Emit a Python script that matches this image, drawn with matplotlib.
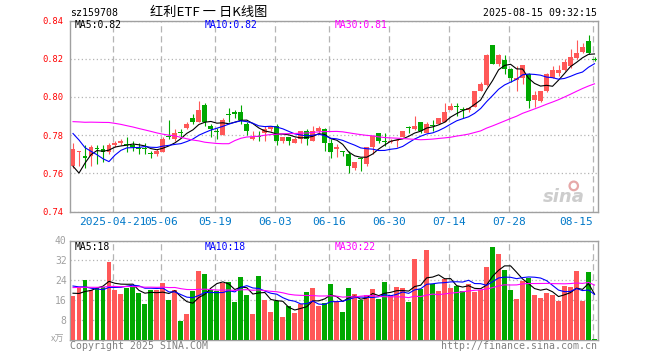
import matplotlib
matplotlib.use("Agg")
import matplotlib.pyplot as plt
from matplotlib.patches import Ellipse
import numpy as np
import pandas as pd

code = "sz159708"
title = "红利ETF 一 日K线图"
stamp = "2025-08-15 09:32:15"

# daily candles 2025-04-10 .. 2025-08-15
opens = [0.764, 0.771, 0.769, 0.769, 0.7735, 0.773, 0.771, 0.775, 0.776, 0.7755,
         0.775, 0.7735, 0.7735, 0.7705, 0.770, 0.771, 0.7795, 0.778, 0.7815, 0.784,
         0.789, 0.787, 0.796, 0.785, 0.782, 0.780, 0.791, 0.792, 0.792, 0.786,
         0.778, 0.7795, 0.781, 0.783, 0.785, 0.777, 0.779, 0.776, 0.778, 0.782,
         0.777, 0.782, 0.783, 0.776, 0.773, 0.7712, 0.770, 0.763, 0.768, 0.765,
         0.774, 0.781, 0.7767, 0.7765, 0.777, 0.779, 0.784, 0.783, 0.787, 0.781,
         0.7852, 0.786, 0.787, 0.793, 0.7952, 0.7932, 0.793, 0.795, 0.803, 0.8065,
         0.827, 0.817, 0.8195, 0.8145, 0.809, 0.810, 0.812, 0.7985, 0.798, 0.803,
         0.810, 0.8125, 0.814, 0.816, 0.8205, 0.8235, 0.8295, 0.8197]
highs = [0.776, 0.772, 0.775, 0.775, 0.775, 0.775, 0.776, 0.777, 0.778, 0.779,
         0.777, 0.776, 0.776, 0.772, 0.773, 0.779, 0.788, 0.783, 0.783, 0.787,
         0.791, 0.798, 0.797, 0.786, 0.784, 0.789, 0.794, 0.793, 0.796, 0.787,
         0.782, 0.782, 0.785, 0.785, 0.786, 0.779, 0.779, 0.779, 0.782, 0.783,
         0.785, 0.785, 0.784, 0.778, 0.7755, 0.772, 0.772, 0.766, 0.768, 0.774,
         0.780, 0.781, 0.781, 0.778, 0.7778, 0.782, 0.785, 0.790, 0.787, 0.787,
         0.788, 0.789, 0.797, 0.797, 0.797, 0.795, 0.7945, 0.803, 0.808, 0.8225,
         0.827, 0.8225, 0.822, 0.815, 0.816, 0.8165, 0.8125, 0.803, 0.803, 0.8125,
         0.816, 0.8165, 0.820, 0.825, 0.830, 0.828, 0.8325, 0.821]
lows = [0.763, 0.764, 0.763, 0.764, 0.765, 0.766, 0.770, 0.774, 0.775, 0.771,
        0.772, 0.770, 0.770, 0.768, 0.769, 0.771, 0.778, 0.777, 0.779, 0.783,
        0.786, 0.787, 0.785, 0.779, 0.778, 0.780, 0.787, 0.789, 0.786, 0.780,
        0.7775, 0.777, 0.777, 0.782, 0.775, 0.776, 0.775, 0.776, 0.776, 0.775,
        0.777, 0.781, 0.772, 0.768, 0.7685, 0.769, 0.7605, 0.762, 0.7615, 0.764,
        0.770, 0.776, 0.7745, 0.776, 0.7738, 0.779, 0.781, 0.7825, 0.781, 0.781,
        0.782, 0.786, 0.787, 0.793, 0.790, 0.789, 0.792, 0.795, 0.803, 0.806,
        0.817, 0.816, 0.812, 0.808, 0.803, 0.807, 0.794, 0.795, 0.7975, 0.8025,
        0.810, 0.811, 0.8135, 0.815, 0.820, 0.823, 0.8225, 0.819]
closes = [0.773, 0.772, 0.768, 0.774, 0.773, 0.771, 0.775, 0.776, 0.777, 0.775,
          0.774, 0.773, 0.773, 0.770, 0.772, 0.778, 0.779, 0.781, 0.781, 0.786,
          0.787, 0.793, 0.787, 0.783, 0.7815, 0.788, 0.7905, 0.791, 0.788, 0.782,
          0.779, 0.779, 0.783, 0.785, 0.777, 0.779, 0.777, 0.778, 0.782, 0.778,
          0.782, 0.784, 0.776, 0.771, 0.774, 0.771, 0.764, 0.766, 0.7675, 0.774,
          0.7795, 0.777, 0.7765, 0.7772, 0.7777, 0.782, 0.7838, 0.785, 0.782, 0.786,
          0.785, 0.789, 0.792, 0.7955, 0.795, 0.793, 0.794, 0.803, 0.807, 0.822,
          0.817, 0.822, 0.8145, 0.810, 0.810, 0.8165, 0.798, 0.801, 0.803, 0.812,
          0.814, 0.814, 0.8185, 0.821, 0.823, 0.826, 0.823, 0.8195]
# volume, 万手
volumes = [17.7, 21.5, 24.0, 20.1, 21.1, 21.5, 31.2, 20.1, 18.4, 20.8,
           21.7, 18.8, 14.4, 20.1, 20.1, 22.8, 16.1, 20.1, 7.7, 10.4,
           19.7, 27.7, 26.4, 20.1, 19.5, 23.1, 23.5, 15.2, 25.2, 18.1,
           10.4, 25.7, 16.1, 11.2, 15.7, 9.1, 13.5, 10.8, 14.4, 19.2,
           20.8, 13.5, 14.8, 22.4, 15.5, 11.2, 20.8, 18.4, 16.1, 17.9,
           20.4, 16.4, 23.2, 17.9, 21.2, 20.8, 15.2, 32.4, 20.5, 36.0,
           22.4, 19.7, 24.5, 20.8, 21.9, 19.5, 22.4, 19.2, 20.1, 29.2,
           37.2, 34.5, 28.0, 20.1, 16.4, 23.7, 25.1, 18.1, 16.8, 18.8,
           18.1, 15.5, 21.7, 21.2, 27.7, 15.7, 27.2, 0.5]

# 29 sessions before the window, estimated from where the MA lines start
pre_close = [0.776, 0.774, 0.772, 0.775, 0.773, 0.776,
             0.790, 0.793, 0.796, 0.794, 0.797, 0.795, 0.793, 0.796, 0.798, 0.794, 0.792,
             0.805, 0.808, 0.807,
             0.806, 0.808, 0.793, 0.791, 0.792,
             0.790, 0.742, 0.752, 0.762]
pre_vol = [19.5, 22.0, 20.5, 21.8, 19.0, 23.0, 20.0, 21.5, 18.5, 22.5,
           20.0, 21.0, 19.5, 22.0, 20.5, 21.5, 19.0, 22.0, 20.5, 21.0,
           25.0, 23.5, 26.0, 24.0, 24.5,
           22.0, 20.0, 18.0, 16.3]

tick_idx = [7, 15, 24, 34, 43, 53, 63, 73, 87]
tick_labels = ["2025-04-21", "05-06", "05-19", "06-03", "06-16",
               "06-30", "07-14", "07-28", "08-15"]
price_ticks = [0.74, 0.76, 0.78, 0.80, 0.82, 0.84]
vol_ticks = [8, 16, 24, 32, 40]
ma_windows = [5, 10, 30]
ma_colors = ["black", "#0000ff", "#ff00ff"]

RED, GREEN = "#ff5858", "#00a800"
GRID = "#b4b4b4"
MONO = "DejaVu Sans Mono"
CJK = ["Noto Sans CJK SC", "DejaVu Sans"]

o, h, l, c = map(np.array, (opens, highs, lows, closes))
v = np.array(volumes)
x = np.arange(len(c))
cols = np.where(c > o, RED, GREEN)

fig = plt.figure(figsize=(6.6, 3.6), dpi=100)

def box(left, top, right, bottom):
    return [left / 660, 1 - bottom / 360, (right - left) / 660, (bottom - top) / 360]

def ftext(px, py, s, **kw):
    fig.text(px / 660, 1 - py / 360, s, **kw)

ax = fig.add_axes(box(70, 20.5, 597.5, 211.7))
axv = fig.add_axes(box(70, 240.5, 597.5, 340))

for a in (ax, axv):
    a.set_xlim(-0.5, len(c) - 0.5)
    a.set_xticks([t - 0.3 for t in tick_idx])
    a.xaxis.grid(True, color=GRID, lw=0.9, ls=(0, (5, 3)))
    a.yaxis.grid(True, color=GRID, lw=0.9, ls=(0, (1, 2)))
    a.set_axisbelow(True)
    a.tick_params(length=0)
    for s in a.spines.values():
        s.set_color("#a0a0a0")
        s.set_linewidth(1)

# sina watermark, behind the candles
ax.text(0.975, 0.075, "sina", transform=ax.transAxes, family="DejaVu Sans",
        fontsize=13, fontweight="bold", style="italic", color="#cdcdcd",
        ha="right", va="center", zorder=0)
ax.add_patch(Ellipse((0.955, 0.135), 0.016, 0.045, transform=ax.transAxes,
                     fill=False, ec="#e6a8a8", lw=1.6, zorder=0))

# candles
ax.vlines(x, l, h, colors=cols, lw=0.8, zorder=2)
ax.bar(x, np.maximum(np.abs(c - o), 0.0005), bottom=np.minimum(o, c),
       width=0.82, color=cols, linewidth=0, zorder=3)

closes_all = pd.Series(pre_close + closes)
vols_all = pd.Series(pre_vol + volumes)
k = len(pre_close)
ma_last = []
vma_last = []
for w, col in zip(ma_windows, ma_colors):
    m = closes_all.rolling(w).mean().iloc[k:].to_numpy()
    ax.plot(x, m, color=col, lw=0.8, zorder=4)
    ma_last.append(m[-1])
    vm = vols_all.rolling(w).mean().iloc[k:].to_numpy()
    axv.plot(x, vm, color=col, lw=0.8, zorder=4)
    vma_last.append(vm[-1])

ax.set_ylim(0.74, 0.84)
ax.set_yticks(price_ticks)
ax.set_yticklabels([f"{p:.2f}" for p in price_ticks], color="red",
                   family=MONO, fontsize=6.3)
ax.tick_params(axis="y", pad=4.8)
ax.set_xticklabels(tick_labels, color="#0078c8", family=MONO, fontsize=8)
ax.tick_params(axis="x", pad=4)
ax.get_xticklabels()[-1].set_ha("right")

# volume bars
axv.bar(x, v, width=0.82, color=cols, linewidth=0, zorder=3)
axv.set_ylim(0, 40)
axv.set_yticks(vol_ticks)
axv.set_yticklabels([str(t) for t in vol_ticks], color="#a0a0a0",
                    family=MONO, fontsize=7)
axv.tick_params(axis="y", pad=2.4)
axv.set_xticklabels([])

# header and labels
ftext(70, 13, code, family=MONO, fontsize=7.1, va="center")
ftext(209, 12.5, title, family=CJK, fontsize=9.5, ha="center", va="center")
ftext(597, 13, stamp, family=MONO, fontsize=7.1, ha="right", va="center")

lx = [75, 205, 335]
for px, w, col, val in zip(lx, ma_windows, ma_colors, ma_last):
    ftext(px, 25.5, f"MA{w}:{val:.2f}", family=MONO, fontsize=7, color=col, va="center")
for px, w, col, val in zip(lx, ma_windows, ma_colors, vma_last):
    ftext(px, 246.5, f"MA{w}:{val:.0f}", family=MONO, fontsize=7, color=col, va="center")

ftext(64, 339.5, "x万", family=CJK, fontsize=6.5, color="#a0a0a0", ha="right", va="center")
ftext(70, 346, "Copyright 2025 SINA.COM", family=MONO, fontsize=7.1,
      color="#808080", va="center")
ftext(597, 346, "http://finance.sina.com.cn", family=MONO, fontsize=7.1,
      color="#808080", ha="right", va="center")

fig.savefig("out.png", dpi=100)
